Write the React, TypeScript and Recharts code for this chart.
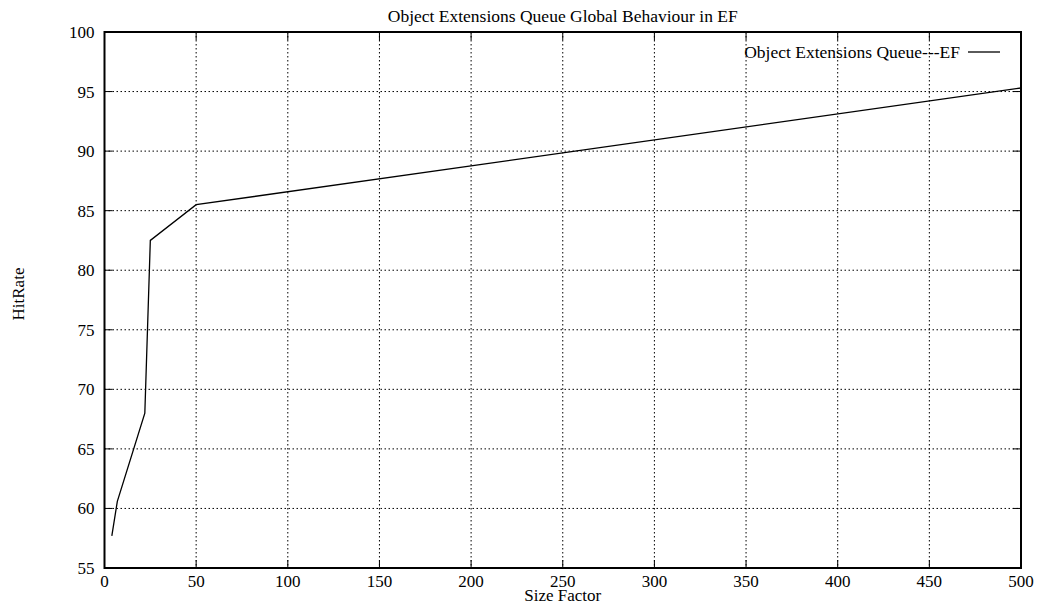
import { LineChart, Line, XAxis, YAxis, CartesianGrid, ReferenceArea, Label } from "recharts";

const sizeFactor = [4, 7, 22, 25, 50, 500];
const hitRate = [57.7, 60.6, 68, 82.5, 85.5, 95.3];
const xTicks = [0, 50, 100, 150, 200, 250, 300, 350, 400, 450, 500];
const yTicks = [55, 60, 65, 70, 75, 80, 85, 90, 95, 100];

const data = sizeFactor.map((x, i) => ({ x, y: hitRate[i] }));

const W = 1037;
const H = 605;
const PLOT_LEFT = 104.5;
const PLOT_RIGHT = 1021;
const PLOT_TOP = 32;
const PLOT_BOTTOM = 568;
const FONT = "'Liberation Serif', 'DejaVu Serif', serif";
const FS = 17;
const TICK = 8;

function YTick({ x, y, payload }: any) {
  return (
    <g>
      <line x1={x} x2={x + TICK} y1={y} y2={y} stroke="#000" />
      <line x1={PLOT_RIGHT - TICK} x2={PLOT_RIGHT} y1={y} y2={y} stroke="#000" />
      <text x={x - 10} y={y} dy="0.35em" textAnchor="end" fontSize={FS} fontFamily={FONT} fill="#000">
        {payload.value}
      </text>
    </g>
  );
}

function XTick({ x, y, payload }: any) {
  return (
    <g>
      <line x1={x} x2={x} y1={y} y2={y - TICK} stroke="#000" />
      <line x1={x} x2={x} y1={PLOT_TOP} y2={PLOT_TOP + TICK} stroke="#000" />
      <text x={x} y={y + 19} textAnchor="middle" fontSize={FS} fontFamily={FONT} fill="#000">
        {payload.value}
      </text>
    </g>
  );
}

export default function App() {
  return (
    <div style={{ position: "absolute", left: 0, top: 0, width: W, height: H, background: "#fff" }}>
      <div
        style={{
          position: "absolute",
          left: PLOT_LEFT,
          width: PLOT_RIGHT - PLOT_LEFT,
          top: 6,
          textAlign: "center",
          fontFamily: FONT,
          fontSize: 17.5,
          lineHeight: "20px",
        }}
      >
        Object Extensions Queue Global Behaviour in EF
      </div>
      <LineChart
        width={W}
        height={H}
        data={data}
        margin={{ top: PLOT_TOP, right: W - PLOT_RIGHT, bottom: 0, left: 0 }}
      >
        <CartesianGrid stroke="#000" strokeDasharray="1.5 2.5" strokeWidth={1} />
        <XAxis
          dataKey="x"
          type="number"
          domain={[0, 500]}
          ticks={xTicks}
          height={H - PLOT_BOTTOM}
          axisLine={false}
          tickLine={false}
          tickSize={0}
          tickMargin={0}
          tick={<XTick />}
          interval={0}
        >
          <Label
            content={({ viewBox }: any) => (
              <text
                x={viewBox.x + viewBox.width / 2}
                y={viewBox.y + 33}
                textAnchor="middle"
                fontSize={FS}
                fontFamily={FONT}
                fill="#000"
              >
                Size Factor
              </text>
            )}
          />
        </XAxis>
        <YAxis
          type="number"
          domain={[55, 100]}
          ticks={yTicks}
          width={PLOT_LEFT}
          axisLine={false}
          tickLine={false}
          tickSize={0}
          tickMargin={0}
          tick={<YTick />}
          interval={0}
        >
          <Label
            content={() => {
              const cx = 18;
              const cy = 294;
              return (
                <text
                  x={cx}
                  y={cy}
                  dy="0.35em"
                  transform={`rotate(-90 ${cx} ${cy})`}
                  textAnchor="middle"
                  fontSize={FS}
                  fontFamily={FONT}
                  fill="#000"
                >
                  HitRate
                </text>
              );
            }}
          />
        </YAxis>
        <ReferenceArea x1={0} x2={500} y1={55} y2={100} fill="none" stroke="#000" strokeWidth={2} />
        <Line
          dataKey="y"
          type="linear"
          stroke="#000"
          strokeWidth={1.3}
          dot={false}
          isAnimationActive={false}
        />
      </LineChart>
      <div
        style={{
          position: "absolute",
          left: 640,
          top: 43,
          width: 362,
          display: "flex",
          justifyContent: "flex-end",
          alignItems: "center",
          fontFamily: FONT,
          fontSize: 17.5,
          lineHeight: "18px",
        }}
      >
        <span>Object Extensions Queue---EF</span>
        <svg width={34} height={10} style={{ marginLeft: 8 }}>
          <line x1={0} x2={32} y1={5} y2={5} stroke="#000" strokeWidth={1.3} />
        </svg>
      </div>
    </div>
  );
}
